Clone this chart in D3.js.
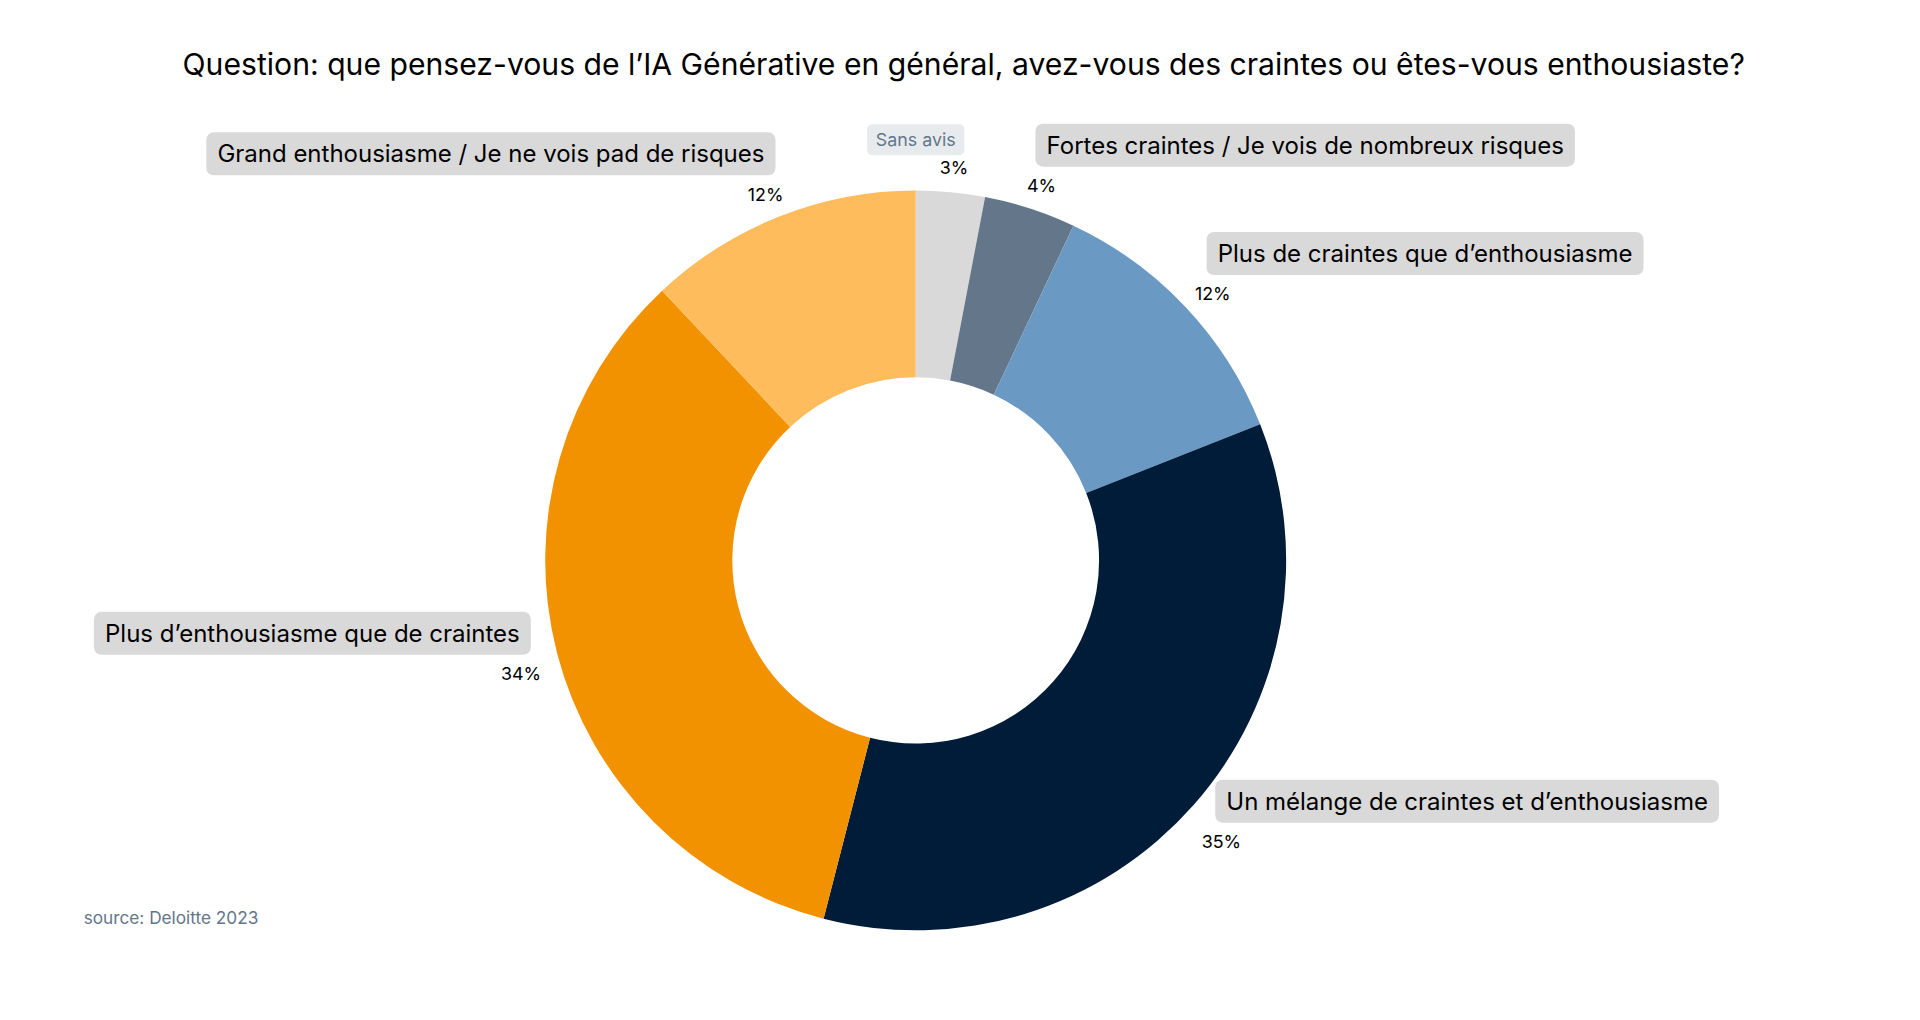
<!DOCTYPE html>
<html>
<head>
<meta charset="utf-8">
<script src="https://cdn.jsdelivr.net/npm/d3@7"></script>
<style>
  body { margin: 0; background: #fff; }
  text { font-family: Inter, "Noto Sans", sans-serif; }
</style>
</head>
<body>
<div id="chart"></div>
<script>
var categories = ["Sans avis", "Fortes craintes / Je vois de nombreux risques", "Plus de craintes que d\u2019enthousiasme",
    "Un m\u00e9lange de craintes et d\u2019enthousiasme", "Plus d\u2019enthousiasme que de craintes",
    "Grand enthousiasme / Je ne vois pad de risques"];
var values = [3, 4, 12, 35, 34, 12];
var colors = ["#d9d9d9", "#64768a", "#6a9ac4", "#001c38", "#f39200", "#ffbc5c"];

// drawn in 1560x830 units, scaled up to the window
var W = 1560, H = 830;
var svg = d3.select("#chart").append("svg")
    .attr("width", 1920).attr("height", 1020)
    .attr("viewBox", "0 0 " + W + " " + H)
    .attr("preserveAspectRatio", "none");

svg.append("text").attr("x", 783).attr("y", 61).attr("text-anchor", "middle")
    .attr("font-size", 24.5).attr("fill", "#000")
    .text("Question: que pensez-vous de l\u2019IA G\u00e9n\u00e9rative en g\u00e9n\u00e9ral, avez-vous des craintes ou \u00eates-vous enthousiaste?");

svg.append("text").attr("x", 68).attr("y", 752).attr("font-size", 14).attr("fill", "#64768a")
    .text("source: Deloitte 2023");

var cx = 744, cy = 456, R = 301, r = 149;
var g = svg.append("g").attr("transform", "translate(" + cx + "," + cy + ")");

var pie = d3.pie().sort(null).value(function(d) { return d; });
var arcs = pie(values);
var arc = d3.arc().innerRadius(r).outerRadius(R);

g.selectAll("path").data(arcs).enter().append("path")
    .attr("d", arc)
    .attr("fill", function(d, i) { return colors[i]; });

var lr = R * 1.1;
arcs.forEach(function(d, i) {
    var a = (d.startAngle + d.endAngle) / 2;
    var x = Math.sin(a) * lr, y = -Math.cos(a) * lr;
    g.append("text").attr("x", x).attr("y", y + 15).attr("text-anchor", "middle")
        .attr("font-size", 14.5).attr("fill", "#000").text(values[i] + "%");

    var lg = g.append("g");
    if (i === 0) {
        var t0 = lg.append("text").attr("x", 0).attr("y", -cy + 119).attr("text-anchor", "middle")
            .attr("font-size", 14.5).attr("fill", "#64768a").text(categories[i]);
        var b0 = t0.node().getBBox();
        lg.insert("rect", "text").attr("x", b0.x - 7).attr("y", b0.y - 4)
            .attr("width", b0.width + 14).attr("height", b0.height + 8)
            .attr("rx", 4).attr("fill", "#e8ebee");
        return;
    }
    var right = x > 0;
    var ty = y - 23;
    var t = lg.append("text")
        .attr("x", right ? x + 4 : x - 1)
        .attr("y", ty + 7)
        .attr("text-anchor", right ? "start" : "end")
        .attr("font-size", 19.5).attr("fill", "#000").text(categories[i]);
    var b = t.node().getBBox();
    lg.insert("rect", "text").attr("x", b.x - 9).attr("y", ty - 17.5)
        .attr("width", b.width + 18).attr("height", 35)
        .attr("rx", 6).attr("fill", "#d9d9d9");
});
</script>
</body>
</html>
